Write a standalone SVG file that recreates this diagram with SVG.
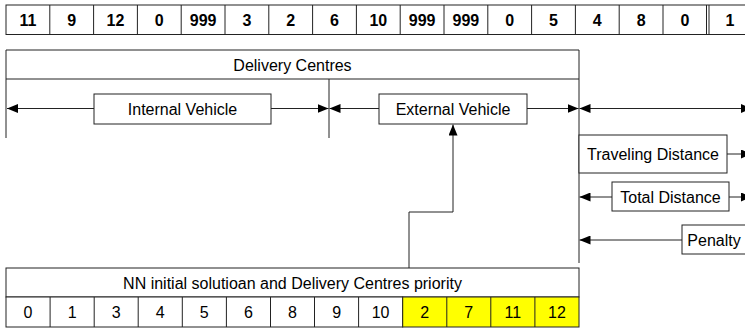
<svg xmlns="http://www.w3.org/2000/svg" width="745" height="328" viewBox="0 0 745 328">
<style>
.box{fill:#fff;stroke:#222;stroke-width:1}
.yel{fill:#ffff00;stroke:#222;stroke-width:1}
.ln{fill:none;stroke:#222;stroke-width:1}
.t{font-family:"Liberation Sans",Arial,sans-serif;font-size:16px;fill:#000;text-anchor:middle}
.b{font-weight:bold}
</style>
<defs>
<marker id="ah" markerWidth="11" markerHeight="9" refX="11" refY="4.5" orient="auto" markerUnits="userSpaceOnUse">
<path d="M0,0 L11,4.5 L0,9 z" fill="#000"/>
</marker>
</defs>
<rect width="745" height="328" fill="#fff"/>

<g id="top-row">
<rect class="box" x="6" y="5" width="750" height="29.5"/>
<path class="ln" d="M49.8,5V34.5M93.6,5V34.5M137.4,5V34.5M181.2,5V34.5M225,5V34.5M268.8,5V34.5M312.6,5V34.5M356.4,5V34.5M400.2,5V34.5M444,5V34.5M487.8,5V34.5M531.6,5V34.5M575.4,5V34.5M619.2,5V34.5M663,5V34.5M706.5,5V34.5M709,5V34.5"/>
<text class="t b" x="27.9" y="26">11</text>
<text class="t b" x="71.7" y="26">9</text>
<text class="t b" x="115.5" y="26">12</text>
<text class="t b" x="159.3" y="26">0</text>
<text class="t b" x="203.1" y="26">999</text>
<text class="t b" x="246.9" y="26">3</text>
<text class="t b" x="290.7" y="26">2</text>
<text class="t b" x="334.5" y="26">6</text>
<text class="t b" x="378.3" y="26">10</text>
<text class="t b" x="422.1" y="26">999</text>
<text class="t b" x="465.9" y="26">999</text>
<text class="t b" x="509.7" y="26">0</text>
<text class="t b" x="553.5" y="26">5</text>
<text class="t b" x="597.3" y="26">4</text>
<text class="t b" x="641.1" y="26">8</text>
<text class="t b" x="684.9" y="26">0</text>
<text class="t b" x="730" y="26">1</text>
</g>

<g id="delivery-centres">
<path class="ln" d="M6,50H579M6,79H579M6,50V138M579,50V263M329,79V138"/>
<text class="t" x="292.5" y="71">Delivery Centres</text>
</g>

<g id="connectors">
<line class="ln" x1="94" y1="108.5" x2="7" y2="108.5" marker-end="url(#ah)"/>
<line class="ln" x1="271" y1="108.5" x2="328.5" y2="108.5" marker-end="url(#ah)"/>
<line class="ln" x1="379" y1="108.5" x2="329.5" y2="108.5" marker-end="url(#ah)"/>
<line class="ln" x1="527" y1="108.5" x2="578.5" y2="108.5" marker-end="url(#ah)"/>
<line class="ln" x1="660" y1="108.5" x2="579.5" y2="108.5" marker-end="url(#ah)"/>
<line class="ln" x1="660" y1="108.5" x2="752" y2="108.5" marker-end="url(#ah)"/>
<line class="ln" x1="727" y1="154" x2="752" y2="154" marker-end="url(#ah)"/>
<line class="ln" x1="612" y1="197" x2="579.5" y2="197" marker-end="url(#ah)"/>
<line class="ln" x1="729" y1="197" x2="752" y2="197" marker-end="url(#ah)"/>
<line class="ln" x1="682" y1="240" x2="579.5" y2="240" marker-end="url(#ah)"/>
<polyline class="ln" points="409,268 409,212 453,212 453,124.5" marker-end="url(#ah)"/>
</g>

<g id="internal-vehicle">
<rect class="box" x="94" y="94" width="177" height="30"/>
<text class="t" x="182.5" y="115">Internal Vehicle</text>
</g>

<g id="external-vehicle">
<rect class="box" x="379" y="94" width="148" height="30"/>
<text class="t" x="453" y="115">External Vehicle</text>
</g>

<g id="traveling-distance">
<rect class="box" x="579" y="135" width="148" height="38"/>
<text class="t" x="653" y="160">Traveling Distance</text>
</g>

<g id="total-distance">
<rect class="box" x="612" y="182" width="117" height="29"/>
<text class="t" x="670.5" y="202.5">Total Distance</text>
</g>

<g id="penalty">
<rect class="box" x="682" y="225" width="80" height="29"/>
<text class="t" x="714" y="245.5">Penalty</text>
</g>

<g id="nn-solution">
<rect class="box" x="6" y="268" width="573" height="29"/>
<text class="t" x="292.5" y="289">NN initial solutioan and Delivery Centres priority</text>
<rect class="box" x="6" y="297" width="396.7" height="30"/>
<rect class="yel" x="402.7" y="297" width="176.3" height="30"/>
<path class="ln" d="M50.1,297V327M94.2,297V327M138.2,297V327M182.3,297V327M226.4,297V327M270.5,297V327M314.5,297V327M358.6,297V327M446.8,297V327M490.8,297V327M534.9,297V327"/>
<text class="t" x="28" y="318">0</text>
<text class="t" x="72.1" y="318">1</text>
<text class="t" x="116.2" y="318">3</text>
<text class="t" x="160.3" y="318">4</text>
<text class="t" x="204.3" y="318">5</text>
<text class="t" x="248.4" y="318">6</text>
<text class="t" x="292.5" y="318">8</text>
<text class="t" x="336.6" y="318">9</text>
<text class="t" x="380.6" y="318">10</text>
<text class="t" x="424.7" y="318">2</text>
<text class="t" x="468.8" y="318">7</text>
<text class="t" x="512.9" y="318">11</text>
<text class="t" x="556.9" y="318">12</text>
</g>
</svg>
